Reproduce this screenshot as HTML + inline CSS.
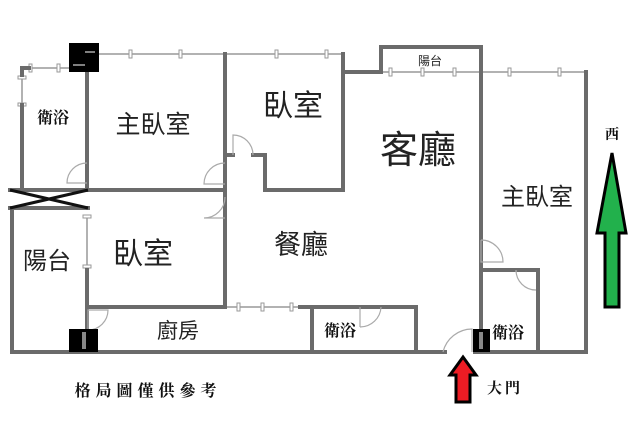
<!DOCTYPE html>
<html><head><meta charset="utf-8"><style>
html,body{margin:0;padding:0;background:#fff;width:640px;height:441px;overflow:hidden}
svg{display:block}
.w{stroke:#6b6b6b;stroke-width:4;fill:none;stroke-linecap:square}
.win{stroke:#999;stroke-width:1.5;fill:none}
.tk{fill:#fff;stroke:#999;stroke-width:1}
.dr{stroke:#aaa;stroke-width:1.2;fill:none}
.t{font-family:"Liberation Sans","Noto Sans CJK TC",sans-serif;fill:#222;text-anchor:middle}
.b{font-family:"Liberation Serif","Noto Serif CJK SC",serif;font-weight:bold;fill:#111;text-anchor:middle}
</style></head><body>
<svg width="640" height="441" viewBox="0 0 640 441" xmlns="http://www.w3.org/2000/svg">
<path class="win" d="M99 54H225M225 54H343M32 68H69M22 77V105M87 215V270M225 307H300M383 72H481M481 72H586"/>
<g class="tk">
<rect x="129" y="50" width="3" height="8"/><rect x="179" y="50" width="3" height="8"/><rect x="275" y="50" width="3" height="8"/><rect x="325" y="50" width="3" height="8"/>
<rect x="29" y="64" width="3" height="8"/><rect x="57" y="64" width="3" height="8"/>
<rect x="18" y="76" width="8" height="3"/><rect x="18" y="103" width="8" height="3"/>
<rect x="83" y="215" width="8" height="3"/><rect x="83" y="265" width="8" height="3"/>
<rect x="237" y="303" width="3" height="8"/><rect x="261" y="303" width="3" height="8"/><rect x="290" y="303" width="3" height="8"/>
<rect x="389" y="68" width="3" height="8"/><rect x="421" y="68" width="3" height="8"/><rect x="453" y="68" width="3" height="8"/>
<rect x="508" y="68" width="3" height="8"/><rect x="558" y="68" width="3" height="8"/>
</g>
<path class="w" d="M22 105V190M22 75V68H29M87 72V190M10 190H225M10 208H88M12 208V352M87 270V352M12 352H445M475 352H586V72M343 54V190M343 72H381V47H481V352M225 54V307M88 307H225M300 307H416V352M312 307V352M225 155H233M253 155H265V190H343M481 270H538V352"/>
<path d="M10 190L88 208M10 208L88 190" stroke="#111" stroke-width="3"/>
<path class="dr" d="M87 163A20 20 0 0 0 67 183H87M225 163A21 21 0 0 0 204 184H225M225 197A21 21 0 0 1 204 218H225M233 155V135A20 20 0 0 1 253 155M88 330V310H108A20 20 0 0 1 88 330M360 307V327M360 327A21 21 0 0 0 381 307M481 240V262H503A22 22 0 0 0 481 240M516 270A20 20 0 0 0 536 290M516 270V272M443 352A30 30 0 0 1 472 329V352"/>
<rect x="69" y="43" width="30" height="29" fill="#000"/>
<path d="M85 52H95M73 65H85" stroke="#fff" stroke-width="1"/>
<rect x="69" y="329" width="29" height="23" fill="#000"/>
<rect x="82" y="332" width="4" height="17" fill="#888"/>
<rect x="473" y="329" width="17" height="23" fill="#000"/>
<rect x="479" y="332" width="4" height="17" fill="#888"/>
<path d="M612 153L626 233H619V307H605V233H597Z" fill="#22b14c" stroke="#000" stroke-width="3"/>
<path d="M463 357L476 375H470V402H456V375H450Z" fill="#ed1c24" stroke="#000" stroke-width="3"/>
<text class="b" x="53" y="123" font-size="16">衛浴</text>
<text class="t" x="153" y="133" font-size="25">主臥室</text>
<text class="t" x="293" y="116" font-size="30">臥室</text>
<text class="t" x="418" y="163" font-size="38">客廳</text>
<text class="t" x="430" y="65" font-size="12">陽台</text>
<text class="t" x="537" y="205" font-size="24">主臥室</text>
<text class="b" x="612" y="139" font-size="14">西</text>
<text class="t" x="47" y="269" font-size="24">陽台</text>
<text class="t" x="143" y="264" font-size="30">臥室</text>
<text class="t" x="301" y="254" font-size="27">餐廳</text>
<text class="t" x="178" y="338" font-size="21">廚房</text>
<text class="b" x="340" y="336" font-size="16">衛浴</text>
<text class="b" x="508" y="338" font-size="16">衛浴</text>
<text class="b" x="148" y="396" font-size="16" letter-spacing="5">格局圖僅供參考</text>
<text class="b" x="505" y="393" font-size="15" letter-spacing="3">大門</text>
</svg>
</body></html>
